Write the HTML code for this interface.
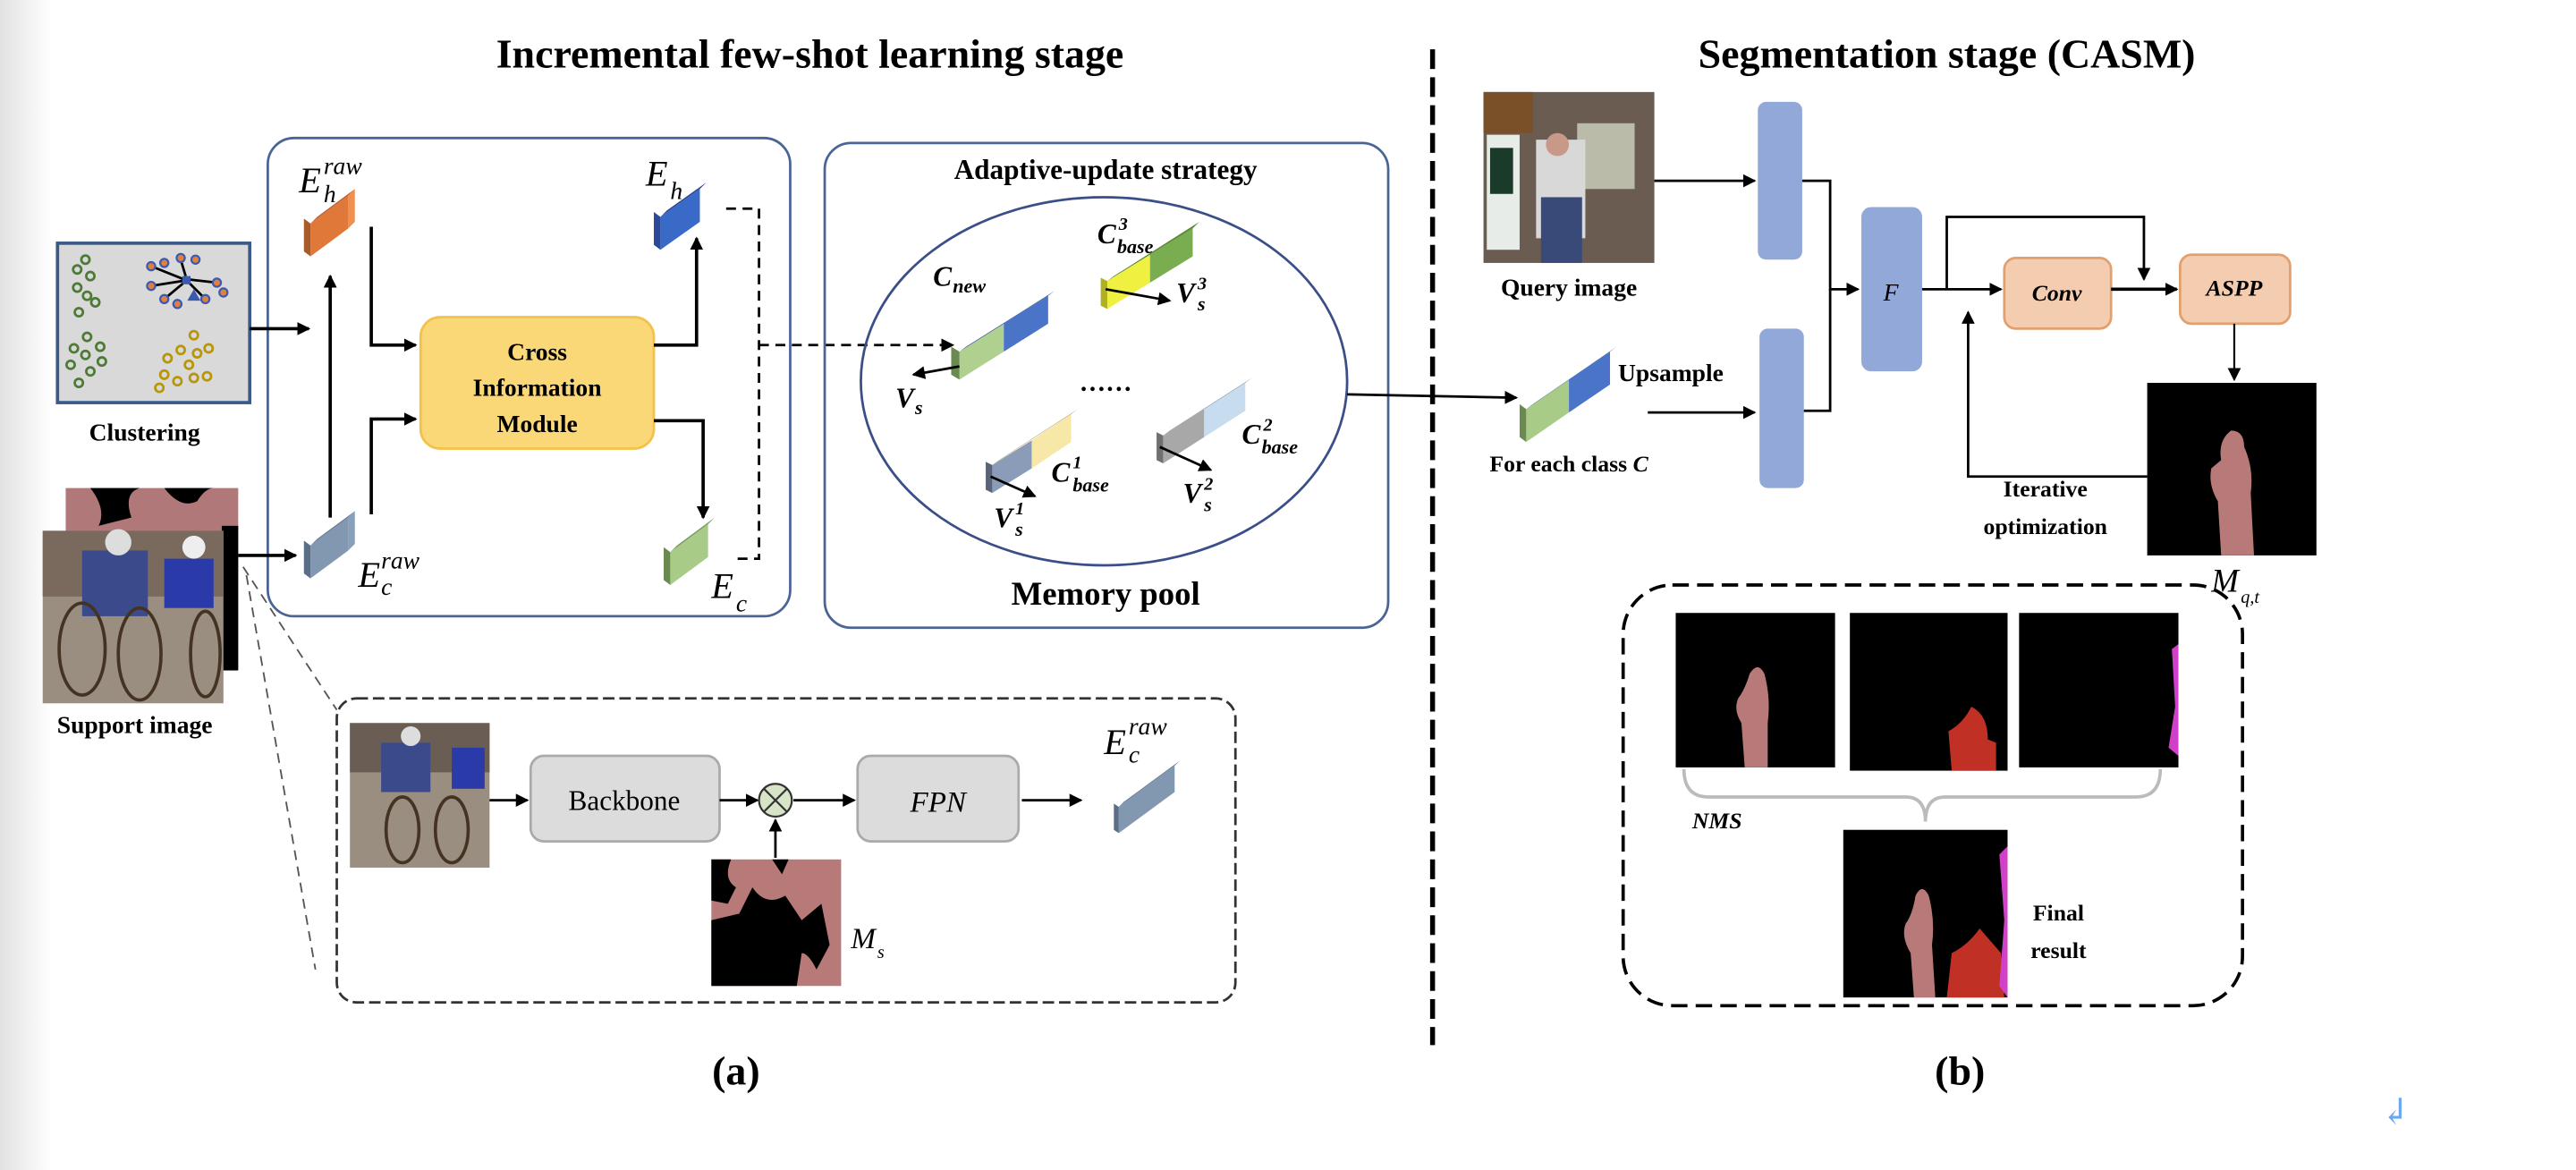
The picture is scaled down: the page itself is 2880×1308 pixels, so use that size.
<!DOCTYPE html>
<html><head><meta charset="utf-8"><style>
html,body{margin:0;padding:0;background:#fff;}
svg{display:block;}
text{font-family:"Liberation Serif","DejaVu Serif",serif;}
</style></head><body>
<svg width="2880" height="1308" viewBox="0 0 1568 712" preserveAspectRatio="none" xmlns="http://www.w3.org/2000/svg">
<defs>
<linearGradient id="lg" x1="0" x2="1"><stop offset="0" stop-color="#e2e2e2"/><stop offset="1" stop-color="#fff"/></linearGradient>
<marker id="ar" markerWidth="8" markerHeight="8" refX="7" refY="4" orient="auto" markerUnits="userSpaceOnUse"><path d="M0,0 L8,4 L0,8 z" fill="#000"/></marker>
</defs>
<rect x="0" y="0" width="1568" height="712" fill="#fff"/>
<rect x="0" y="0" width="32" height="712" fill="url(#lg)"/>

<text x="493" y="41" font-size="25" font-weight="bold" text-anchor="middle">Incremental few-shot learning stage</text>
<text x="1185" y="41" font-size="25" font-weight="bold" text-anchor="middle">Segmentation stage (CASM)</text>
<line x1="872" y1="30" x2="872" y2="636" stroke="#000" stroke-width="3" stroke-dasharray="12,5"/>

<rect x="163" y="84" width="318" height="291" rx="16" fill="none" stroke="#4a6496" stroke-width="1.5"/>
<rect x="35" y="148" width="117" height="97" fill="#d9d9d9" stroke="#3a5a8a" stroke-width="2"/>
<g fill="none" stroke="#4e7a38" stroke-width="1.5">
<circle cx="47" cy="164" r="2.5"/><circle cx="52" cy="158" r="2.5"/><circle cx="55" cy="168" r="2.5"/><circle cx="47" cy="175" r="2.5"/><circle cx="53" cy="180" r="2.5"/><circle cx="58" cy="184" r="2.5"/><circle cx="48" cy="190" r="2.5"/>
<circle cx="53" cy="205" r="2.5"/><circle cx="45" cy="212" r="2.5"/><circle cx="52" cy="216" r="2.5"/><circle cx="61" cy="211" r="2.5"/><circle cx="43" cy="222" r="2.5"/><circle cx="55" cy="226" r="2.5"/><circle cx="62" cy="220" r="2.5"/><circle cx="48" cy="233" r="2.5"/>
</g>
<g fill="none" stroke="#b8960a" stroke-width="1.5">
<circle cx="118" cy="204" r="2.5"/><circle cx="110" cy="213" r="2.5"/><circle cx="120" cy="215" r="2.5"/><circle cx="127" cy="212" r="2.5"/><circle cx="102" cy="218" r="2.5"/><circle cx="115" cy="222" r="2.5"/><circle cx="100" cy="228" r="2.5"/><circle cx="108" cy="232" r="2.5"/><circle cx="118" cy="230" r="2.5"/><circle cx="126" cy="229" r="2.5"/><circle cx="97" cy="236" r="2.5"/>
</g>
<g stroke="#000" stroke-width="1.5"><line x1="92" y1="162" x2="112" y2="170"/><line x1="132" y1="172" x2="114" y2="170"/><line x1="100" y1="182" x2="112" y2="172"/><line x1="125" y1="182" x2="115" y2="172"/><line x1="110" y1="158" x2="113" y2="168"/><line x1="92" y1="174" x2="111" y2="171"/></g>
<g fill="#e08040" stroke="#3a5ab0" stroke-width="1.2"><circle cx="92" cy="162" r="2.5"/><circle cx="100" cy="160" r="2.5"/><circle cx="110" cy="157" r="2.5"/><circle cx="119" cy="158" r="2.5"/><circle cx="132" cy="172" r="2.5"/><circle cx="92" cy="174" r="2.5"/><circle cx="100" cy="182" r="2.5"/><circle cx="125" cy="182" r="2.5"/><circle cx="136" cy="178" r="2.5"/><circle cx="108" cy="185" r="2.5"/></g>
<rect x="111" y="168" width="5" height="5" fill="#3a5ab0"/><path d="M118,176 L122,183 L114,183z" fill="#3a5ab0"/>
<text x="88" y="268" font-size="15" font-weight="bold" text-anchor="middle">Clustering</text>

<rect x="40" y="297" width="105" height="110" fill="#b07878"/>
<path d="M55,297 Q65,310 60,320 L80,315 Q75,300 85,297z M100,297 Q110,310 120,305 Q125,297 130,297z" fill="#000"/>
<rect x="135" y="320" width="10" height="88" fill="#000"/>
<rect x="26" y="323" width="110" height="105" fill="#9a8e80"/>
<rect x="26" y="323" width="110" height="40" fill="#7a6a5e"/>
<rect x="50" y="335" width="40" height="40" fill="#3a4a8a"/><rect x="100" y="340" width="30" height="30" fill="#2a3aa8"/>
<circle cx="72" cy="330" r="8" fill="#ddd"/><circle cx="118" cy="333" r="7" fill="#eee"/>
<ellipse cx="50" cy="395" rx="14" ry="28" fill="none" stroke="#443322" stroke-width="2"/><ellipse cx="85" cy="398" rx="13" ry="28" fill="none" stroke="#443322" stroke-width="2"/><ellipse cx="125" cy="398" rx="9" ry="26" fill="none" stroke="#443322" stroke-width="2"/>
<text x="82" y="446" font-size="15" font-weight="bold" text-anchor="middle">Support image</text>

<line x1="152" y1="200" x2="188" y2="200" stroke="#000" stroke-width="2" marker-end="url(#ar)"/>
<line x1="145" y1="338" x2="180" y2="338" stroke="#000" stroke-width="2" marker-end="url(#ar)"/>

<!-- E_h raw orange -->
<polygon points="189,156 189,136 212,119 212,139" fill="#e0783a"/><polygon points="189,136 193,132 216,115 212,119" fill="#c06030"/><polygon points="212,139 212,119 216,115 216,135" fill="#f09050"/><polygon points="185,153 189,156 189,136 185,133" fill="#a85a28"/>
<text x="182" y="117" font-size="22" font-style="italic">E</text><text x="197" y="106" font-size="15" font-style="italic">raw</text><text x="197" y="123" font-size="15" font-style="italic">h</text>
<!-- E_c raw -->
<polygon points="189,352 189,332 212,315 212,335" fill="#8298b0"/><polygon points="189,332 193,328 216,311 212,315" fill="#6a7e98"/><polygon points="212,335 212,315 216,311 216,331" fill="#8aa0b8"/><polygon points="185,349 189,352 189,332 185,329" fill="#5a6e88"/>
<text x="218" y="357" font-size="22" font-style="italic">E</text><text x="232" y="346" font-size="15" font-style="italic">raw</text><text x="232" y="362" font-size="15" font-style="italic">c</text>
<!-- E_h -->
<polygon points="402,152 402,132 426,115 426,135" fill="#3a6ac8"/><polygon points="402,132 406,128 430,111 426,115" fill="#2a4a98"/><polygon points="398,149 402,152 402,132 398,129" fill="#2a4a98"/>
<text x="393" y="113" font-size="22" font-style="italic">E</text><text x="408" y="121" font-size="15" font-style="italic">h</text>
<!-- E_c -->
<polygon points="408,356 408,336 431,319 431,339" fill="#a8cc88"/><polygon points="408,336 412,332 435,315 431,319" fill="#7a9a60"/><polygon points="404,353 408,356 408,336 404,333" fill="#6a8a50"/>
<text x="433" y="364" font-size="22" font-style="italic">E</text><text x="448" y="372" font-size="15" font-style="italic">c</text>

<line x1="201" y1="315" x2="201" y2="168" stroke="#000" stroke-width="2" marker-end="url(#ar)"/>
<polyline points="226,138 226,210 253,210" fill="none" stroke="#000" stroke-width="2" marker-end="url(#ar)"/>
<polyline points="226,313 226,255 253,255" fill="none" stroke="#000" stroke-width="2" marker-end="url(#ar)"/>
<rect x="256" y="193" width="142" height="80" rx="12" fill="#fad878" stroke="#f2c24b" stroke-width="1.5"/>
<text x="327" y="219" font-size="15" font-weight="bold" text-anchor="middle">Cross</text>
<text x="327" y="241" font-size="15" font-weight="bold" text-anchor="middle">Information</text>
<text x="327" y="263" font-size="15" font-weight="bold" text-anchor="middle">Module</text>
<polyline points="398,210 424,210 424,145" fill="none" stroke="#000" stroke-width="2" marker-end="url(#ar)"/>
<polyline points="398,256 428,256 428,315" fill="none" stroke="#000" stroke-width="2" marker-end="url(#ar)"/>
<polyline points="442,127 462,127 462,340 446,340" fill="none" stroke="#000" stroke-width="1.5" stroke-dasharray="6,4"/>
<line x1="462" y1="210" x2="580" y2="210" stroke="#000" stroke-width="1.5" stroke-dasharray="6,4" marker-end="url(#ar)"/>

<rect x="502" y="87" width="343" height="295" rx="16" fill="none" stroke="#4a6496" stroke-width="1.5"/>
<text x="673" y="109" font-size="17" font-weight="bold" text-anchor="middle">Adaptive-update strategy</text>
<ellipse cx="672" cy="232" rx="148" ry="112" fill="none" stroke="#3a4e88" stroke-width="1.5"/>
<text x="673" y="368" font-size="20" font-weight="bold" text-anchor="middle">Memory pool</text>
<polygon points="584,231 584,214 611,197 611,214" fill="#b0d090"/><polygon points="611,214 611,197 638,180 638,197" fill="#4a74c8"/><polygon points="584,214 588,211 642,177 638,180" fill="#3a5a98"/><polygon points="579,228 584,231 584,214 579,211" fill="#6a8a50"/>
<line x1="584" y1="223" x2="556" y2="228" stroke="#000" stroke-width="1.5" marker-end="url(#ar)"/>
<text x="545" y="248" font-size="17" font-weight="bold" font-style="italic">V</text><text x="557" y="252" font-size="12" font-style="italic" font-weight="bold">s</text>
<text x="568" y="174" font-size="17" font-weight="bold" font-style="italic">C</text><text x="580" y="178" font-size="12" font-style="italic" font-weight="bold">new</text>
<polygon points="674,188 674,171 700,155 700,172" fill="#f0f040"/><polygon points="700,172 700,155 726,139 726,156" fill="#7aac50"/><polygon points="674,171 678,168 730,135 726,139" fill="#5a8a38"/><polygon points="670,186 674,188 674,171 670,169" fill="#b0b020"/>
<line x1="673" y1="176" x2="712" y2="183" stroke="#000" stroke-width="1.5" marker-end="url(#ar)"/>
<text x="716" y="184" font-size="17" font-weight="bold" font-style="italic">V</text><text x="729" y="176" font-size="11" font-weight="bold" font-style="italic">3</text><text x="729" y="189" font-size="12" font-weight="bold" font-style="italic">s</text>
<text x="668" y="148" font-size="17" font-weight="bold" font-style="italic">C</text><text x="681" y="140" font-size="11" font-weight="bold" font-style="italic">3</text><text x="680" y="154" font-size="12" font-weight="bold" font-style="italic">base</text>
<text x="673" y="238" font-size="16" font-weight="bold" text-anchor="middle">……</text>
<polygon points="604,300 604,283 628,268 628,285" fill="#8a9cb8"/><polygon points="628,285 628,268 652,252 652,269" fill="#f8e8a8"/><polygon points="604,283 608,280 656,249 652,252" fill="#c0b080"/><polygon points="600,298 604,300 604,283 600,281" fill="#5a6478"/>
<line x1="603" y1="290" x2="630" y2="302" stroke="#000" stroke-width="1.5" marker-end="url(#ar)"/>
<text x="605" y="321" font-size="17" font-weight="bold" font-style="italic">V</text><text x="618" y="313" font-size="11" font-weight="bold" font-style="italic">1</text><text x="618" y="326" font-size="12" font-weight="bold" font-style="italic">s</text>
<text x="640" y="293" font-size="17" font-weight="bold" font-style="italic">C</text><text x="653" y="285" font-size="11" font-weight="bold" font-style="italic">1</text><text x="653" y="299" font-size="12" font-weight="bold" font-style="italic">base</text>
<polygon points="708,282 708,265 733,249 733,266" fill="#a8a8a8"/><polygon points="733,266 733,249 758,233 758,250" fill="#c8dcf0"/><polygon points="708,265 712,262 762,230 758,233" fill="#90a0b0"/><polygon points="704,280 708,282 708,265 704,263" fill="#707070"/>
<line x1="706" y1="272" x2="737" y2="286" stroke="#000" stroke-width="1.5" marker-end="url(#ar)"/>
<text x="720" y="306" font-size="17" font-weight="bold" font-style="italic">V</text><text x="733" y="298" font-size="11" font-weight="bold" font-style="italic">2</text><text x="733" y="311" font-size="12" font-weight="bold" font-style="italic">s</text>
<text x="756" y="270" font-size="17" font-weight="bold" font-style="italic">C</text><text x="769" y="262" font-size="11" font-weight="bold" font-style="italic">2</text><text x="768" y="276" font-size="12" font-weight="bold" font-style="italic">base</text>

<line x1="820" y1="240" x2="923" y2="242" stroke="#000" stroke-width="1.5" marker-end="url(#ar)"/>

<line x1="148" y1="345" x2="205" y2="432" stroke="#555" stroke-width="1" stroke-dasharray="6,4"/>
<line x1="150" y1="350" x2="192" y2="590" stroke="#555" stroke-width="1" stroke-dasharray="6,4"/>
<rect x="205" y="425" width="547" height="185" rx="12" fill="none" stroke="#333" stroke-width="1.5" stroke-dasharray="7,3"/>
<rect x="213" y="440" width="85" height="88" fill="#9a8e80"/><rect x="213" y="440" width="85" height="30" fill="#6a5e54"/><rect x="232" y="452" width="30" height="30" fill="#3a4a8a"/><rect x="275" y="455" width="20" height="25" fill="#2a3aa8"/><circle cx="250" cy="448" r="6" fill="#ddd"/>
<ellipse cx="245" cy="505" rx="10" ry="20" fill="none" stroke="#443322" stroke-width="2"/><ellipse cx="275" cy="505" rx="10" ry="20" fill="none" stroke="#443322" stroke-width="2"/>
<line x1="298" y1="487" x2="321" y2="487" stroke="#000" stroke-width="1.5" marker-end="url(#ar)"/>
<rect x="323" y="460" width="115" height="52" rx="8" fill="#dcdcdc" stroke="#aaa" stroke-width="1.5"/>
<text x="380" y="493" font-size="17" text-anchor="middle">Backbone</text>
<line x1="438" y1="487" x2="461" y2="487" stroke="#000" stroke-width="1.5" marker-end="url(#ar)"/>
<circle cx="472" cy="487" r="10" fill="#d8e4c8" stroke="#333" stroke-width="1.2"/><path d="M465,480 L479,494 M479,480 L465,494" stroke="#333" stroke-width="1.2"/>
<line x1="483" y1="487" x2="520" y2="487" stroke="#000" stroke-width="1.5" marker-end="url(#ar)"/>
<rect x="522" y="460" width="98" height="52" rx="8" fill="#dcdcdc" stroke="#aaa" stroke-width="1.5"/>
<text x="571" y="494" font-size="18" font-style="italic" text-anchor="middle">FPN</text>
<line x1="622" y1="487" x2="658" y2="487" stroke="#000" stroke-width="1.5" marker-end="url(#ar)"/>
<polygon points="681,507 681,491 715,466 715,482" fill="#8298b0"/><polygon points="681,491 684,488 718,463 715,466" fill="#6a7e98"/><polygon points="678,505 681,507 681,491 678,489" fill="#5a6e88"/>
<text x="672" y="459" font-size="22" font-style="italic">E</text><text x="687" y="447" font-size="15" font-style="italic">raw</text><text x="687" y="464" font-size="15" font-style="italic">c</text>
<line x1="472" y1="522" x2="472" y2="499" stroke="#000" stroke-width="1.5" marker-end="url(#ar)"/>
<rect x="433" y="523" width="79" height="77" fill="#b87a78"/>
<path d="M433,523 L445,523 Q440,535 448,540 L443,550 L433,548z M470,523 L480,523 L476,532z M433,560 L450,556 L458,540 Q466,552 478,545 L488,560 L500,550 L505,575 L497,590 Q492,580 488,580 L485,600 L433,600z" fill="#000"/>
<text x="518" y="577" font-size="18" font-style="italic">M</text><text x="534" y="583" font-size="11" font-style="italic">s</text>

<text x="448" y="660" font-size="25" font-weight="bold" text-anchor="middle">(a)</text>
<text x="1193" y="660" font-size="25" font-weight="bold" text-anchor="middle">(b)</text>

<rect x="903" y="56" width="104" height="104" fill="#6a5c50"/>
<rect x="903" y="56" width="30" height="25" fill="#7a5028"/><rect x="905" y="82" width="20" height="70" fill="#e8ece8"/><rect x="907" y="90" width="14" height="28" fill="#1a3a2a"/>
<rect x="960" y="75" width="35" height="40" fill="#bba"/><rect x="935" y="85" width="30" height="60" fill="#d8d8d8"/><rect x="938" y="120" width="25" height="40" fill="#3a4a78"/><circle cx="948" cy="88" r="7" fill="#c89888"/>
<text x="955" y="180" font-size="15" font-weight="bold" text-anchor="middle">Query image</text>
<line x1="1007" y1="110" x2="1068" y2="110" stroke="#000" stroke-width="1.5" marker-end="url(#ar)"/>
<rect x="1070" y="62" width="27" height="96" rx="5" fill="#92a8d8"/>
<rect x="1071" y="200" width="27" height="97" rx="5" fill="#92a8d8"/>
<polyline points="1097,110 1114,110 1114,176 1131,176" fill="none" stroke="#000" stroke-width="1.5" marker-end="url(#ar)"/>
<polyline points="1098,250 1114,250 1114,176" fill="none" stroke="#000" stroke-width="1.5"/>
<rect x="1133" y="126" width="37" height="100" rx="6" fill="#92a8d8"/>
<text x="1151" y="183" font-size="15" font-style="italic" text-anchor="middle">F</text>
<polygon points="929,269 929,249 955,231 955,251" fill="#a8cc88"/><polygon points="955,251 955,231 980,214 980,234" fill="#4a74c8"/><polygon points="929,249 933,246 984,211 980,214" fill="#3a5a98"/><polygon points="925,266 929,269 929,249 925,246" fill="#6a8a50"/>
<text x="1017" y="232" font-size="15" font-weight="bold" text-anchor="middle">Upsample</text>
<line x1="1003" y1="251" x2="1068" y2="251" stroke="#000" stroke-width="1.5" marker-end="url(#ar)"/>
<text x="955" y="287" font-size="14" font-weight="bold" text-anchor="middle">For each class <tspan font-style="italic">C</tspan></text>

<line x1="1170" y1="176" x2="1218" y2="176" stroke="#000" stroke-width="1.5" marker-end="url(#ar)"/>
<polyline points="1185,176 1185,132 1305,132 1305,170" fill="none" stroke="#000" stroke-width="1.5" marker-end="url(#ar)"/>
<rect x="1220" y="157" width="65" height="43" rx="7" fill="#f4cdb0" stroke="#e0a070" stroke-width="1.5"/>
<text x="1252" y="183" font-size="14" font-weight="bold" font-style="italic" text-anchor="middle">Conv</text>
<line x1="1285" y1="176" x2="1325" y2="176" stroke="#000" stroke-width="2" marker-end="url(#ar)"/>
<rect x="1327" y="155" width="67" height="42" rx="7" fill="#f4cdb0" stroke="#e0a070" stroke-width="1.5"/>
<text x="1360" y="180" font-size="14" font-weight="bold" font-style="italic" text-anchor="middle">ASPP</text>
<line x1="1360" y1="197" x2="1360" y2="231" stroke="#000" stroke-width="1.2" marker-end="url(#ar)"/>
<rect x="1307" y="233" width="103" height="105" fill="#000"/>
<path d="M1352,338 L1350,305 Q1344,295 1346,285 L1352,280 Q1350,268 1358,262 Q1366,262 1366,272 Q1372,285 1370,300 L1372,338z" fill="#b87a78"/>
<polyline points="1307,290 1198,290 1198,190" fill="none" stroke="#000" stroke-width="1.5" marker-end="url(#ar)"/>
<text x="1245" y="302" font-size="14" font-weight="bold" text-anchor="middle">Iterative</text>
<text x="1245" y="325" font-size="14" font-weight="bold" text-anchor="middle">optimization</text>
<text x="1346" y="360" font-size="20" font-style="italic">M</text><text x="1364" y="367" font-size="11" font-style="italic">q,t</text>

<rect x="988" y="356" width="377" height="256" rx="30" fill="none" stroke="#000" stroke-width="2" stroke-dasharray="10,5"/>
<rect x="1020" y="373" width="97" height="94" fill="#000"/>
<path d="M1062,467 L1060,440 Q1055,432 1058,425 Q1062,420 1065,410 Q1070,402 1074,410 Q1078,425 1076,440 L1076,467z" fill="#b87a78"/>
<rect x="1126" y="373" width="96" height="96" fill="#000"/>
<path d="M1188,469 L1186,445 Q1195,440 1200,430 Q1210,435 1210,450 L1215,452 L1215,469z" fill="#c03024"/>
<rect x="1229" y="373" width="97" height="94" fill="#000"/>
<path d="M1322,395 L1326,392 L1326,460 L1320,455 L1324,430z" fill="#d040c8"/>
<path d="M1025,468 Q1025,485 1040,485 L1160,485 Q1172,485 1172,500 Q1172,485 1184,485 L1300,485 Q1315,485 1315,468" fill="none" stroke="#bbb" stroke-width="2"/>
<text x="1030" y="504" font-size="14" font-weight="bold" font-style="italic">NMS</text>
<rect x="1122" y="505" width="100" height="102" fill="#000"/>
<path d="M1165,607 L1163,580 Q1157,570 1160,562 Q1164,557 1166,545 Q1170,537 1174,545 Q1178,560 1176,575 L1178,607z" fill="#b87a78"/>
<path d="M1185,607 L1188,580 Q1198,575 1205,565 L1218,580 L1220,607z" fill="#c03024"/>
<path d="M1217,520 L1222,515 L1222,607 L1217,600 L1220,560z" fill="#d040c8"/>
<text x="1253" y="560" font-size="14" font-weight="bold" text-anchor="middle">Final</text>
<text x="1253" y="583" font-size="14" font-weight="bold" text-anchor="middle">result</text>

<text x="1458" y="684" font-size="22" fill="#6aa8f0" text-anchor="middle">↲</text>
</svg>
</body></html>
